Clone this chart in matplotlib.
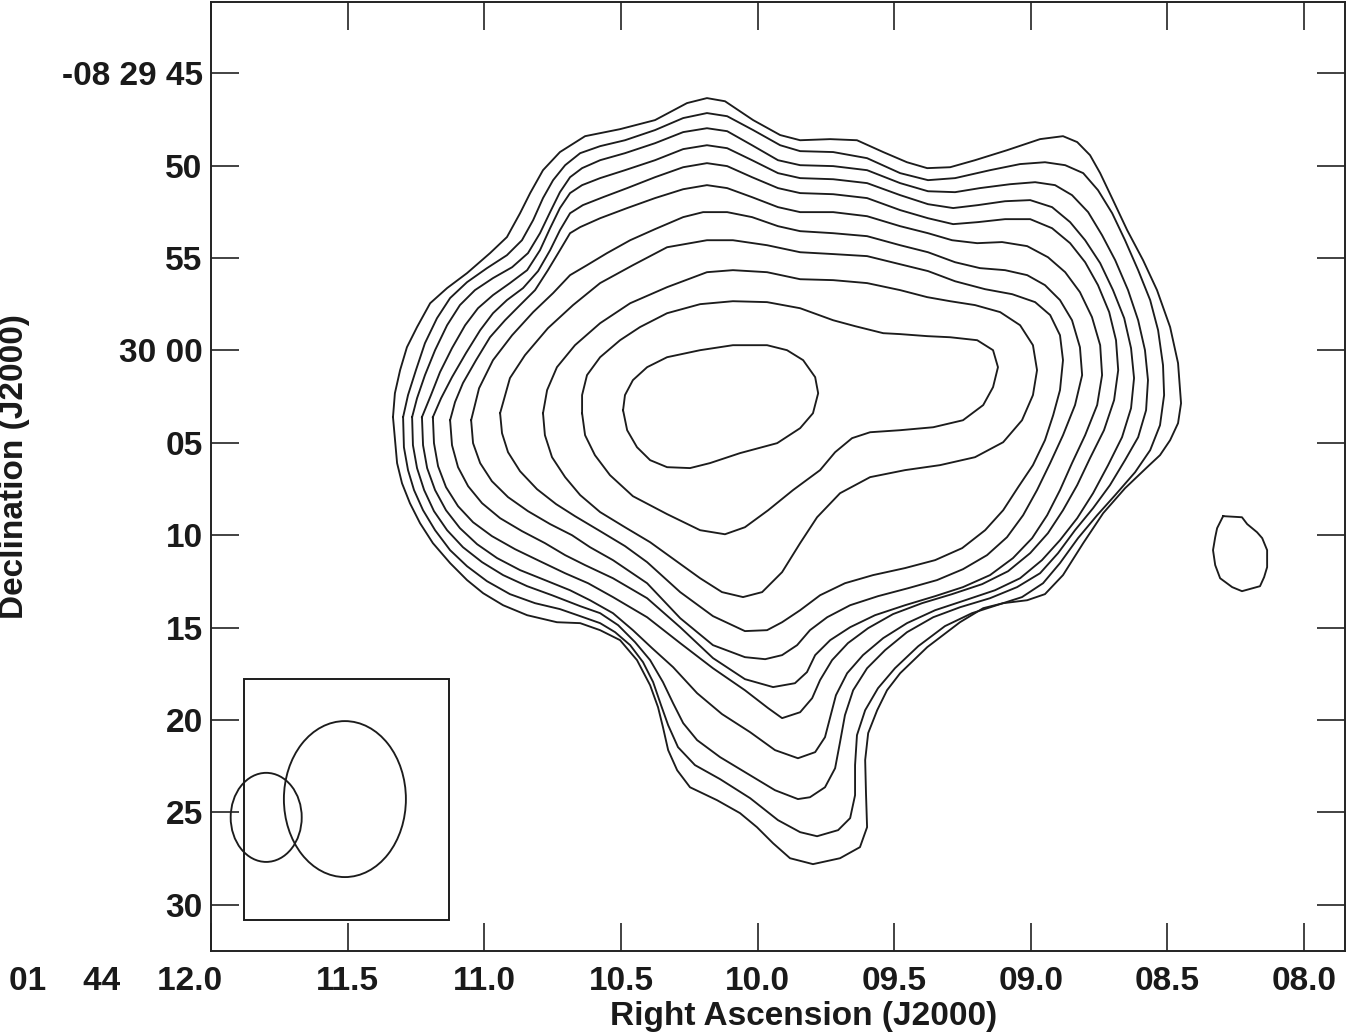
import matplotlib
matplotlib.use('Agg')
import matplotlib.pyplot as plt
from matplotlib.patches import Ellipse, Rectangle
import numpy as np

plt.rcParams['font.family'] = ['Liberation Sans', 'DejaVu Sans']
plt.rcParams['font.weight'] = 'bold'

# ---- axis ticks (RA seconds of 01 44 xx, Dec arcsec past -08 29 00) ----
ra_ticks = [12.0, 11.5, 11.0, 10.5, 10.0, 9.5, 9.0, 8.5, 8.0]
ra_labels = ['', '11.5', '11.0', '10.5', '10.0', '09.5', '09.0', '08.5', '08.0']
ra_first_label = '01    44    12.0'
dec_ticks = [45, 50, 55, 60, 65, 70, 75, 80, 85, 90]
dec_labels = ['-08 29 45', '50', '55', '30 00', '05', '10', '15', '20', '25', '30']

# ---- contour levels, outermost (1) to innermost (11): (RA s, Dec arcsec) ----
contour_1 = [(11.334,63.61),(11.319,66.10),(11.301,67.19),(11.272,68.27),(11.235,69.35),(11.188,70.43),
    (11.125,71.51),(11.063,72.43),(11.004,73.14),(10.931,73.79),(10.843,74.33),(10.734,74.71),(10.649,74.76),
    (10.576,75.14),(10.503,75.68),(10.441,76.76),(10.393,78.12),(10.364,79.31),(10.346,80.39),(10.327,81.63),
    (10.294,82.72),(10.247,83.64),(10.148,84.34),(10.064,85.04),(10.002,85.80),(9.943,86.67),(9.881,87.48),
    (9.797,87.80),(9.698,87.48),(9.625,86.88),(9.599,85.80),(9.603,83.96),(9.606,82.17),(9.595,80.71),
    (9.562,79.47),(9.526,78.39),(9.478,77.47),(9.379,76.06),(9.259,74.71),(9.174,73.95),(9.101,73.68),
    (9.013,73.52),(8.948,73.19),(8.882,72.16),(8.808,70.43),(8.735,68.81),(8.655,67.46),(8.574,66.32),
    (8.527,65.67),(8.490,64.86),(8.461,63.94),(8.450,62.86),(8.461,60.69),(8.490,58.74),(8.538,56.74),
    (8.589,55.12),(8.647,53.50),(8.699,51.87),(8.746,50.41),(8.783,49.44),(8.830,48.73),(8.882,48.41),
    (8.966,48.57),(9.087,49.17),(9.204,49.71),(9.295,50.09),(9.379,50.14),(9.453,49.82),(9.540,49.27),
    (9.636,48.63),(9.734,48.57),(9.844,48.63),(9.917,48.35),(10.016,47.54),(10.119,46.52),(10.185,46.35),
    (10.258,46.62),(10.375,47.54),(10.503,48.03),(10.631,48.41),(10.723,49.27),(10.785,50.25),(10.832,51.49),
    (10.869,52.58),(10.917,53.87),(10.979,54.74),(11.063,55.82),(11.136,56.63),(11.198,57.45),(11.246,58.74),
    (11.283,59.83),(11.308,61.07),(11.327,62.32)]
contour_2 = [(11.297,63.61),(11.294,65.24),(11.279,66.48),(11.257,67.56),(11.224,68.65),(11.180,69.73),
    (11.125,70.81),(11.063,71.68),(10.990,72.49),(10.906,73.19),(10.814,73.68),(10.723,74.00),(10.649,74.38),
    (10.576,74.76),(10.521,75.25),(10.466,75.95),(10.419,76.87),(10.382,77.95),(10.353,79.20),(10.327,80.28),
    (10.291,81.47),(10.229,82.44),(10.137,83.20),(10.027,84.23),(9.925,85.42),(9.844,86.07),(9.782,86.29),
    (9.705,85.96),(9.661,85.31),(9.643,84.07),(9.643,82.44),(9.636,80.82),(9.606,79.47),(9.559,78.28),
    (9.497,77.20),(9.412,76.01),(9.314,74.92),(9.215,74.22),(9.112,73.73),(9.032,73.35),(8.955,72.60),
    (8.893,71.51),(8.827,70.16),(8.757,68.92),(8.691,67.83),(8.618,66.59),(8.563,65.40),(8.527,64.05),
    (8.512,62.42),(8.516,60.80),(8.534,58.91),(8.563,57.28),(8.607,55.66),(8.655,54.04),(8.702,52.58),
    (8.754,51.33),(8.808,50.41),(8.874,49.98),(8.948,49.82),(9.039,49.92),(9.149,50.25),(9.277,50.68),
    (9.376,50.79),(9.478,50.41),(9.599,49.60),(9.723,49.27),(9.844,49.22),(9.917,48.90),(10.016,48.08),
    (10.111,47.33),(10.185,47.16),(10.272,47.43),(10.375,48.08),(10.485,48.63),(10.576,48.95),(10.649,49.33),
    (10.704,49.98),(10.748,50.79),(10.785,51.76),(10.821,52.95),(10.862,54.04),(10.917,54.85),(10.990,55.55),
    (11.063,56.31),(11.125,57.17),(11.173,58.26),(11.217,59.61),(11.250,61.07),(11.279,62.42)]
contour_3 = [(11.264,63.61),(11.261,65.13),(11.246,66.37),(11.220,67.56),(11.184,68.70),(11.136,69.73),
    (11.078,70.65),(11.008,71.46),(10.931,72.16),(10.843,72.76),(10.752,73.25),(10.649,73.84),(10.576,74.22),
    (10.510,74.87),(10.448,75.79),(10.393,76.76),(10.346,77.95),(10.309,79.09),(10.272,80.17),(10.221,81.09),
    (10.137,82.01),(10.027,82.99),(9.936,83.80),(9.852,84.28),(9.808,84.18),(9.753,83.64),
    (9.716,82.61),(9.698,81.20),(9.680,79.74),(9.650,78.39),(9.599,77.20),(9.533,76.22),(9.453,75.25),
    (9.357,74.44),(9.259,73.90),(9.149,73.41),(9.050,72.81),(8.966,72.06),(8.900,70.97),(8.838,69.73),
    (8.772,68.54),(8.710,67.29),(8.655,65.94),(8.607,64.70),(8.578,63.24),(8.571,61.61),(8.582,59.99),
    (8.607,58.37),(8.644,56.74),(8.691,55.12),(8.739,53.77),(8.790,52.52),(8.849,51.60),(8.911,51.06),
    (8.984,50.90),(9.076,51.01),(9.186,51.22),(9.277,51.44),(9.376,51.39),(9.478,50.95),(9.599,50.25),
    (9.723,50.03),(9.844,49.98),(9.925,49.71),(10.020,48.90),(10.111,48.14),(10.185,47.98),(10.272,48.19),
    (10.375,48.79),(10.485,49.33),(10.576,49.71),(10.642,50.14),(10.686,50.63),(10.723,51.44),(10.759,52.52),
    (10.796,53.66),(10.840,54.74),(10.898,55.50),(10.968,56.09),(11.034,56.74),(11.089,57.55),(11.136,58.64),
    (11.180,59.99),(11.217,61.34),(11.246,62.59)]
contour_4 = [(11.228,63.61),(11.224,65.13),(11.209,66.37),(11.180,67.56),(11.140,68.65),(11.089,69.62),
    (11.026,70.49),(10.953,71.24),(10.869,71.89),(10.778,72.43),(10.686,72.98),(10.613,73.52),(10.529,74.22),
    (10.456,75.14),(10.386,76.11),(10.309,77.14),(10.221,78.55),(10.130,79.68),(10.027,80.66),(9.936,81.63),
    (9.852,82.07),(9.789,81.74),(9.753,80.93),(9.734,79.85),
    (9.713,78.66),(9.672,77.47),(9.614,76.49),(9.540,75.57),(9.453,74.76),(9.350,74.06),(9.240,73.52),
    (9.131,72.98),(9.039,72.33),(8.959,71.35),(8.893,70.27),(8.830,69.08),(8.772,67.73),(8.717,66.21),
    (8.666,64.70),(8.633,63.13),(8.622,61.50),(8.633,59.88),(8.658,58.26),(8.699,56.74),(8.746,55.28),
    (8.801,54.04),(8.856,53.06),(8.922,52.25),(9.002,51.87),(9.094,51.93),(9.193,52.14),(9.284,52.30),
    (9.376,52.09),(9.478,51.60),(9.599,50.95),(9.723,50.74),(9.844,50.68),(9.925,50.41),(10.020,49.71),
    (10.111,49.06),(10.185,48.90),(10.272,49.11),(10.375,49.71),(10.485,50.25),(10.576,50.68),(10.642,51.06),
    (10.686,51.49),(10.723,52.30),(10.759,53.39),(10.796,54.58),(10.843,55.66),(10.906,56.36),(10.968,57.01),
    (11.023,57.72),(11.070,58.64),(11.118,59.88),(11.162,61.18),(11.195,62.42)]
contour_5 = [(11.188,63.61),(11.184,65.02),(11.169,66.27),(11.140,67.40),(11.096,68.43),(11.041,69.30),
    (10.972,70.05),(10.887,70.76),(10.796,71.41),(10.704,72.06),(10.620,72.60),(10.529,73.35),(10.404,74.44),
    (10.283,75.84),(10.163,77.20),(10.046,78.39),(9.961,79.36),(9.910,79.90),(9.844,79.58),(9.800,78.82),
    (9.771,77.84),(9.727,76.76),(9.669,75.84),
    (9.595,75.03),(9.504,74.27),(9.398,73.68),(9.288,73.19),(9.178,72.65),(9.083,71.95),(9.002,70.97),
    (8.937,69.89),(8.882,68.65),(8.830,67.29),(8.783,65.83),(8.732,64.32),(8.695,62.69),(8.680,61.07),
    (8.688,59.45),(8.713,57.93),(8.754,56.47),(8.801,55.23),(8.856,54.20),(8.922,53.39),(9.002,52.90),
    (9.094,52.90),(9.193,53.06),(9.284,53.17),(9.376,52.85),(9.478,52.41),(9.599,51.76),(9.723,51.55),
    (9.844,51.49),(9.925,51.22),(10.020,50.63),(10.111,50.03),(10.185,49.87),(10.272,50.09),(10.375,50.63),
    (10.477,51.22),(10.565,51.71),(10.639,52.14),(10.686,52.58),(10.723,53.50),(10.759,54.58),(10.803,55.71),
    (10.858,56.63),(10.917,57.28),(10.968,57.99),(11.015,58.91),(11.067,60.15),(11.118,61.45),(11.158,62.59)]
contour_6 = [(11.125,63.78),(11.118,65.13),(11.096,66.32),(11.059,67.35),(11.008,68.27),(10.942,69.08),
    (10.862,69.78),(10.778,70.43),(10.704,71.08),(10.631,71.62),(10.529,72.33),(10.404,73.41),(10.283,74.98),
    (10.163,76.65),(10.046,77.79),(9.943,78.22),(9.863,78.01),(9.819,77.41),
    (9.789,76.49),(9.734,75.68),(9.661,74.98),(9.570,74.33),(9.460,73.79),
    (9.350,73.30),(9.248,72.81),(9.149,72.16),(9.065,71.24),(8.995,70.16),(8.940,68.92),(8.893,67.56),
    (8.849,66.10),(8.801,64.59),(8.757,62.96),(8.739,61.34),(8.746,59.72),(8.776,58.20),(8.820,56.85),
    (8.874,55.77),(8.937,54.96),(9.013,54.36),(9.105,54.14),(9.196,54.20),(9.288,54.04),(9.376,53.66),
    (9.478,53.28),(9.599,52.74),(9.723,52.52),(9.844,52.52),(9.925,52.25),(10.020,51.71),(10.111,51.22),
    (10.185,51.06),(10.272,51.28),(10.375,51.76),(10.477,52.30),(10.576,52.85),(10.649,53.33),(10.686,53.66),
    (10.723,54.58),(10.767,55.66),(10.814,56.74),(10.869,57.55),(10.924,58.37),(10.979,59.29),(11.030,60.53),
    (11.078,61.77),(11.107,62.80)]
contour_7 = [(11.048,63.78),(11.041,65.02),(11.015,66.10),(10.972,67.08),(10.913,67.94),(10.840,68.70),
    (10.759,69.40),(10.679,70.00),(10.613,70.65),(10.529,71.35),(10.404,72.60),(10.283,74.49),(10.163,75.95),
    (10.046,76.60),(9.972,76.71),(9.910,76.49),(9.855,75.95),
    (9.808,75.14),(9.745,74.44),(9.661,73.79),(9.559,73.30),(9.449,72.87),(9.343,72.43),(9.248,71.84),
    (9.160,71.08),(9.087,70.11),(9.028,68.92),(8.977,67.56),(8.929,66.10),(8.882,64.59),(8.838,62.96),
    (8.812,61.34),(8.820,59.83),(8.849,58.37),(8.893,57.28),(8.948,56.47),(9.013,55.93),(9.094,55.66),
    (9.186,55.55),(9.277,55.23),(9.376,54.69),(9.478,54.31),(9.599,53.82),(9.723,53.66),(9.844,53.55),
    (9.925,53.28),(10.020,52.79),(10.111,52.52),(10.199,52.52),(10.272,52.79),(10.375,53.44),(10.466,54.04),
    (10.551,54.74),(10.624,55.39),(10.686,55.93),(10.748,56.90),(10.821,57.93),(10.898,59.18),(10.968,60.53),
    (11.019,62.05)]
contour_8 = [(10.942,63.40),(10.935,64.48),(10.913,65.51),(10.869,66.54),(10.807,67.51),(10.737,68.32),
    (10.668,68.97),(10.576,69.78),(10.485,70.59),(10.404,71.46),(10.283,73.08),(10.163,74.38),(10.046,75.19),
    (9.965,75.14),(9.910,74.71),(9.844,74.06),(9.771,73.25),
    (9.680,72.60),(9.577,72.16),(9.460,71.78),(9.350,71.35),(9.251,70.70),(9.167,69.73),(9.101,68.65),
    (9.046,67.40),(8.992,66.21),(8.948,64.86),(8.918,63.51),(8.893,62.15),(8.882,60.53),(8.893,59.18),
    (8.929,58.09),(8.984,57.39),(9.068,56.96),(9.167,56.69),(9.277,56.26),(9.376,55.71),(9.478,55.34),
    (9.599,54.90),(9.723,54.79),(9.844,54.69),(9.965,54.31),(10.090,54.04),(10.185,54.04),(10.331,54.42),
    (10.456,55.39),(10.576,56.36),(10.675,57.55),(10.767,58.80),(10.851,60.26),(10.906,61.50)]
contour_9 = [(10.785,63.40),(10.778,64.59),(10.752,65.78),(10.704,66.86),(10.649,67.83),(10.576,68.75),
    (10.485,69.57),(10.393,70.38),(10.302,71.35),(10.210,72.33),(10.130,73.08),(10.053,73.35),(9.983,73.08),
    (9.910,72.00),(9.844,70.43),(9.782,69.03),(9.698,67.73),(9.588,66.86),(9.460,66.48),(9.332,66.21),
    (9.204,65.78),(9.101,64.97),(9.032,63.78),(8.992,62.42),(8.977,61.07),(8.992,59.72),(9.039,58.64),
    (9.112,57.93),(9.204,57.55),(9.295,57.34),(9.379,57.12),(9.478,56.74),(9.599,56.36),(9.723,56.20),
    (9.844,56.15),(9.965,55.77),(10.090,55.66),(10.185,55.77),(10.331,56.58),(10.466,57.45),(10.576,58.53),
    (10.668,59.72),(10.734,60.91),(10.770,62.15)]
contour_10 = [(10.642,63.40),(10.631,64.59),(10.595,65.67),(10.540,66.75),(10.456,67.89),(10.331,68.86),
    (10.210,69.73),(10.119,69.95),(10.046,69.57),(9.961,68.65),(9.870,67.56),(9.771,66.48),(9.716,65.51),
    (9.654,64.75),(9.588,64.43),(9.478,64.32),(9.357,64.16),(9.248,63.78),(9.174,62.96),(9.138,61.99),
    (9.120,60.91),(9.138,59.99),(9.196,59.45),(9.295,59.29),(9.379,59.23),(9.478,59.12),(9.540,59.07),
    (9.643,58.69),(9.723,58.37),(9.844,57.72),(9.965,57.39),(10.090,57.34),(10.210,57.50),(10.331,57.99),
    (10.430,58.74),(10.503,59.45),(10.576,60.37),(10.624,61.34),(10.642,62.42)]
contour_11 = [(10.492,63.24),(10.477,64.32),(10.441,65.24),(10.393,65.94),(10.331,66.32),(10.247,66.37),
    (10.174,66.10),(10.064,65.56),(9.928,65.02),(9.844,64.21),(9.797,63.40),(9.778,62.32),(9.789,61.45),
    (9.833,60.53),(9.892,59.99),(9.965,59.72),(10.090,59.72),(10.210,59.99),(10.331,60.37),(10.404,60.91),
    (10.456,61.61),(10.485,62.42)]
# isolated component to the west
blob = [(8.296,68.97),(8.227,69.03),(8.208,69.40),(8.172,69.84),(8.153,70.16),(8.135,70.81),(8.135,71.73),
    (8.146,72.27),(8.161,72.76),(8.227,73.03),(8.263,72.81),(8.307,72.33),(8.325,71.62),(8.333,70.81),
    (8.325,70.11),(8.318,69.62)]

# ---- beams in the inset box: (RA centre, Dec centre, width s, height arcsec) ----
beam_large = (11.510, 84.28, 0.4465, 8.44)
beam_small = (11.798, 85.27, 0.260, 4.82)
beam_box = (11.129, 77.79, 0.750, 13.04)  # (RA min, Dec min, dRA, dDec)

contours = [contour_1, contour_2, contour_3, contour_4, contour_5, contour_6,
            contour_7, contour_8, contour_9, contour_10, contour_11, blob]

W, H = 1350, 1034
fig = plt.figure(figsize=(W / 100, H / 100), dpi=100)
ax = fig.add_axes([211 / W, 1 - 951 / H, (1345 - 211) / W, (951 - 2) / H])

line_col = '#1c1c1c'
for c in contours:
    arr = np.array(c + [c[0]])
    ax.plot(arr[:, 0], arr[:, 1], color=line_col, lw=1.35, solid_joinstyle='round')

ax.add_patch(Rectangle((beam_box[0], beam_box[1]), beam_box[2], beam_box[3],
                       fill=False, ec=line_col, lw=1.4))
for b in (beam_large, beam_small):
    ax.add_patch(Ellipse((b[0], b[1]), b[2], b[3], fill=False, ec=line_col, lw=1.35))

ax.set_xlim(12.0, 7.85)
ax.set_ylim(92.5, 41.15)

ax.set_xticks(ra_ticks)
ax.set_xticklabels(ra_labels, fontsize=24, fontweight='bold')
ax.set_yticks(dec_ticks)
ax.set_yticklabels(dec_labels, fontsize=24, fontweight='bold')
ax.tick_params(axis='both', which='major', direction='in', length=20, width=1.2,
               top=True, right=True, color='#222222', labelcolor='#1a1a1a')
ax.tick_params(axis='x', pad=11)
ax.tick_params(axis='y', pad=6)
ax.minorticks_off()
for sp in ax.spines.values():
    sp.set_linewidth(1.4)
    sp.set_color('#222222')

ax.annotate(ra_first_label, xy=(ra_ticks[0], 0), xycoords=('data', 'axes fraction'),
            xytext=(8, -11), textcoords='offset points', ha='right', va='top',
            fontsize=24, fontweight='bold', color='#1a1a1a', annotation_clip=False)

fig.text(804 / W, 1 - 1016 / H, 'Right Ascension (J2000)', ha='center', va='center',
         fontsize=24, fontweight='bold', color='#1a1a1a')
fig.text(15 / W, 1 - 467 / H, 'Declination (J2000)', ha='center', va='center',
         rotation=90, fontsize=24, fontweight='bold', color='#1a1a1a')

fig.savefig('out.png', dpi=100, facecolor='white')
